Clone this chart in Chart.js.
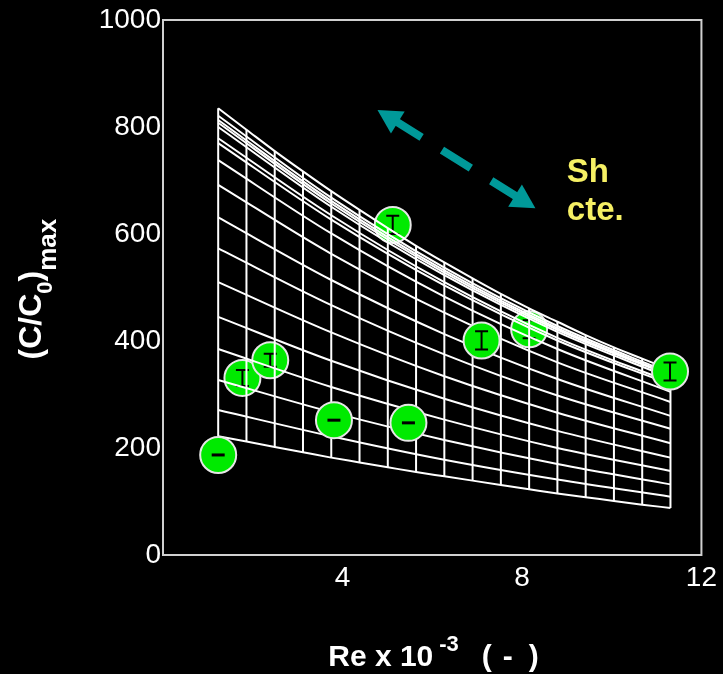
<!DOCTYPE html>
<html>
<head>
<meta charset="utf-8">
<script src="https://cdn.jsdelivr.net/npm/chart.js@4.4.1/dist/chart.umd.min.js"></script>
<style>
html, body { margin: 0; padding: 0; background: #000; }
#wrap { width: 723px; height: 674px; }
</style>
</head>
<body>
<div id="wrap"><canvas id="myChart" width="723" height="674"></canvas></div>
<script>
// vertical lines of the mesh (Re x 10^-3) and the outer curves read at each of them
var meshX = [1.23, 1.86, 2.49, 3.12, 3.75, 4.38, 5.01, 5.64, 6.27, 6.90, 7.53, 8.16, 8.79, 9.42, 10.05, 10.68, 11.31];
var meshTop = [835, 795, 755, 717, 680, 645, 611, 578, 547, 517, 488, 461, 436, 411, 388, 367, 346];
var meshBottom = [222, 212, 202, 192, 182, 173, 164, 155, 147, 139, 131, 123, 115, 108, 101, 94, 88];

// inner curves, read at every 4th vertical line
var curveX = [1.23, 3.75, 6.27, 8.79, 11.31];
var curve1 = [821, 668, 537, 428, 340];
var curve2 = [813, 662, 532, 424, 337];
var curve3 = [808, 657, 528, 421, 335];
var curve4 = [800, 651, 523, 417, 331];
var curve5 = [779, 635, 510, 406, 323];
var curve6 = [770, 627, 504, 401, 319];
var curve7 = [738, 601, 483, 385, 305];
var curve8 = [692, 563, 453, 360, 286];
var curve9 = [631, 514, 413, 329, 260];
var curve10 = [573, 467, 375, 298, 236];
var curve11 = [510, 416, 334, 266, 209];
var curve12 = [445, 363, 292, 232, 182];
var curve13 = [385, 314, 253, 200, 157];
var curve14 = [327, 267, 215, 170, 132];
var curve15 = [271, 222, 178, 141, 109];
var innerCurves = [curve1, curve2, curve3, curve4, curve5, curve6, curve7, curve8,
    curve9, curve10, curve11, curve12, curve13, curve14, curve15];

// measured points (C/C0)max with error half-width
var pointX = [1.23, 1.77, 2.39, 3.81, 5.47, 5.12, 7.10, 8.16, 11.30];
var pointY = [187, 331, 364, 252, 247, 617, 401, 422, 343];
var pointErr = [0, 15, 12, 0, 0, 17, 17, 17, 17];
var pointBehind = [false, true, true, false, false, true, false, true, false];

var xTicks = [4, 8, 12];
var yTicks = [0, 200, 400, 600, 800, 1000];

// "Sh cte." arrow, in data units
var arrowFrom = [4.78, 832];
var arrowTo = [8.30, 648];
var noteAt = [9.0, 697];

function lineSet(xs, ys) {
    return {
        data: xs.map(function (x, i) { return { x: x, y: ys[i] }; }),
        showLine: true,
        borderColor: '#ffffff',
        borderWidth: 2,
        pointRadius: 0,
        cubicInterpolationMode: 'monotone',
        order: 1
    };
}

function pointSet(behind) {
    var d = [], e = [];
    pointX.forEach(function (x, i) {
        if (pointBehind[i] === behind) {
            d.push({ x: x, y: pointY[i] });
            e.push(pointErr[i]);
        }
    });
    return {
        data: d,
        errs: e,
        showLine: false,
        pointRadius: 18,
        pointHoverRadius: 18,
        pointBackgroundColor: '#00ea00',
        pointBorderColor: '#e6e6e6',
        pointBorderWidth: 2,
        order: behind ? 2 : 0
    };
}

var datasets = [];
datasets.push(pointSet(false));
datasets.push(lineSet(meshX, meshTop));
datasets.push(lineSet(meshX, meshBottom));
innerCurves.forEach(function (c) { datasets.push(lineSet(curveX, c)); });
meshX.forEach(function (x, i) {
    datasets.push(lineSet([x, x], [meshBottom[i], meshTop[i]]));
});
datasets.push(pointSet(true));

// 枠線
var boxPlugin = {
    id: 'box',
    beforeDatasetsDraw: function (chart) {
        var a = chart.chartArea, ctx = chart.ctx;
        ctx.save();
        ctx.strokeStyle = '#d0d0d0';
        ctx.lineWidth = 2;
        ctx.strokeRect(a.left, a.top, a.right - a.left, a.bottom - a.top);
        ctx.restore();
    }
};

// error bars inside the markers
var errPlugin = {
    id: 'errGlyph',
    afterDatasetDraw: function (chart, args) {
        var ds = chart.data.datasets[args.index];
        if (!ds.errs) return;
        var ctx = chart.ctx, yScale = chart.scales.y;
        ctx.save();
        ctx.strokeStyle = '#000';
        args.meta.data.forEach(function (el, i) {
            var err = ds.errs[i];
            var px = el.x, py = el.y;
            if (err === 0) {
                ctx.lineWidth = 3;
                ctx.beginPath();
                ctx.moveTo(px - 6.5, py);
                ctx.lineTo(px + 6.5, py);
                ctx.stroke();
                return;
            }
            var h = Math.abs(yScale.getPixelForValue(0) - yScale.getPixelForValue(err));
            ctx.lineWidth = 2;
            ctx.beginPath();
            ctx.moveTo(px, py - h);
            ctx.lineTo(px, py + h);
            ctx.moveTo(px - 6.5, py - h);
            ctx.lineTo(px + 6.5, py - h);
            ctx.moveTo(px - 6.5, py + h);
            ctx.lineTo(px + 6.5, py + h);
            ctx.stroke();
        });
        ctx.restore();
    }
};

var notePlugin = {
    id: 'notes',
    afterDraw: function (chart) {
        var ctx = chart.ctx, xs = chart.scales.x, ys = chart.scales.y, a = chart.chartArea;
        ctx.save();

        // dashed double arrow
        var x1 = xs.getPixelForValue(arrowFrom[0]), y1 = ys.getPixelForValue(arrowFrom[1]);
        var x2 = xs.getPixelForValue(arrowTo[0]), y2 = ys.getPixelForValue(arrowTo[1]);
        var len = Math.sqrt((x2 - x1) * (x2 - x1) + (y2 - y1) * (y2 - y1));
        var ux = (x2 - x1) / len, uy = (y2 - y1) / len;
        var head = 24;
        ctx.strokeStyle = '#009999';
        ctx.fillStyle = '#009999';
        ctx.lineWidth = 8;
        ctx.setLineDash([32, 24, 34, 24, 40, 1000]);
        ctx.beginPath();
        ctx.moveTo(x1 + ux * (head - 4), y1 + uy * (head - 4));
        ctx.lineTo(x2 - ux * (head - 4), y2 - uy * (head - 4));
        ctx.stroke();
        ctx.setLineDash([]);
        [[x1, y1, -1], [x2, y2, 1]].forEach(function (p) {
            var dx = ux * p[2], dy = uy * p[2];
            ctx.beginPath();
            ctx.moveTo(p[0], p[1]);
            ctx.lineTo(p[0] - dx * head - dy * 13, p[1] - dy * head + dx * 13);
            ctx.lineTo(p[0] - dx * head + dy * 13, p[1] - dy * head - dx * 13);
            ctx.closePath();
            ctx.fill();
        });

        // Sh cte.
        var nx = xs.getPixelForValue(noteAt[0]), ny = ys.getPixelForValue(noteAt[1]);
        ctx.fillStyle = '#f6f064';
        ctx.font = 'bold 33px "Liberation Sans"';
        ctx.textAlign = 'left';
        ctx.textBaseline = 'alphabetic';
        ctx.fillText('Sh', nx, ny);
        ctx.fillText('cte.', nx, ny + 38);

        // x axis title
        ctx.fillStyle = '#ffffff';
        var cx = (a.left + a.right) / 2;
        var base = 666;
        var sx = cx - 104;
        ctx.font = 'bold 30px "Liberation Sans"';
        ctx.fillText('Re x 10', sx, base);
        sx += ctx.measureText('Re x 10').width + 6;
        ctx.font = 'bold 22px "Liberation Sans"';
        ctx.fillText('-3', sx, base - 15);
        sx += ctx.measureText('-3').width + 23;
        ctx.font = 'bold 30px "Liberation Sans"';
        ctx.fillText('(', sx, base);
        ctx.fillText('-', sx + 21, base);
        ctx.fillText(')', sx + 47, base);

        // y axis title
        var cy = (a.top + a.bottom) / 2;
        ctx.translate(41, cy + 72);
        ctx.rotate(-Math.PI / 2);
        var tx = 0;
        ctx.font = 'bold 32px "Liberation Sans"';
        ctx.fillText('(C/C', tx, 0);
        tx += ctx.measureText('(C/C').width;
        ctx.font = 'bold 22px "Liberation Sans"';
        ctx.fillText('0', tx, 11);
        tx += ctx.measureText('0').width;
        ctx.font = 'bold 32px "Liberation Sans"';
        ctx.fillText(')', tx, 0);
        tx += ctx.measureText(')').width;
        ctx.font = 'bold 26px "Liberation Sans"';
        ctx.fillText('max', tx, 15);
        ctx.restore();
    }
};

var ctx = document.getElementById('myChart').getContext('2d');
var myChart = new Chart(ctx, {
    type: 'scatter',
    data: { datasets: datasets },
    plugins: [boxPlugin, errPlugin, notePlugin],
    options: {
        responsive: false,
        animation: false,
        devicePixelRatio: 1,
        layout: { padding: { top: 20, right: 20, left: 0, bottom: 0 } },
        plugins: {
            legend: { display: false },
            tooltip: { enabled: false }
        },
        scales: {
            x: {
                type: 'linear',
                min: 0,
                max: 12,
                grid: { display: false, drawTicks: false },
                border: { display: false },
                afterBuildTicks: function (scale) {
                    scale.ticks = xTicks.map(function (v) { return { value: v }; });
                },
                afterFit: function (scale) { scale.height = 119; },
                ticks: {
                    color: '#ffffff',
                    padding: 6,
                    maxRotation: 0,
                    font: { family: 'Liberation Sans', size: 28 },
                    callback: function (v) { return String(v); }
                }
            },
            y: {
                type: 'linear',
                min: 0,
                max: 1000,
                grid: { display: false, drawTicks: false },
                border: { display: false },
                afterBuildTicks: function (scale) {
                    scale.ticks = yTicks.map(function (v) { return { value: v }; });
                },
                afterFit: function (scale) { scale.width = 163; },
                ticks: {
                    color: '#ffffff',
                    padding: 2,
                    font: { family: 'Liberation Sans', size: 28 },
                    callback: function (v) { return String(v); }
                }
            }
        }
    }
});
</script>
</body>
</html>
